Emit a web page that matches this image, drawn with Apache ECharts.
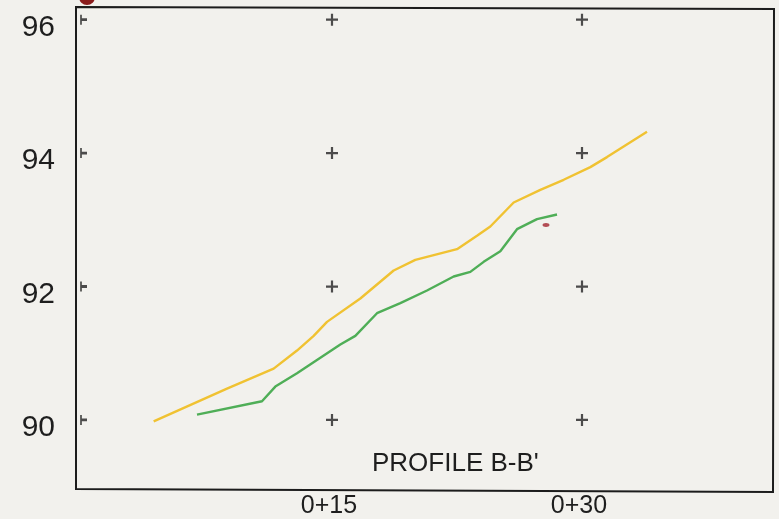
<!DOCTYPE html>
<html>
<head>
<meta charset="utf-8">
<title>Profile B-B'</title>
<script src="https://cdn.jsdelivr.net/npm/echarts@6/dist/echarts.min.js"></script>
<style>
  html, body { margin: 0; padding: 0; background: #f1f0ec; }
  #chart { width: 779px; height: 519px; }
</style>
</head>
<body>
<div id="chart"></div>
<script>
// Station (distance along profile) vs. elevation
const upperStation = [4.3, 8.7, 11.5, 12.9, 13.9, 14.7, 16.7, 18.7, 20.0, 22.5, 23.7, 24.5, 25.9, 27.5, 28.9, 30.5, 31.5, 33.9];
const upperElev    = [89.98, 90.47, 90.77, 91.04, 91.26, 91.47, 91.82, 92.24, 92.40, 92.56, 92.76, 92.90, 93.26, 93.45, 93.60, 93.79, 93.94, 94.32];

const lowerStation = [6.9, 10.8, 11.6, 12.9, 15.5, 16.4, 17.7, 19.1, 20.7, 22.3, 23.3, 24.1, 25.1, 26.1, 27.3, 28.5];
const lowerElev    = [90.08, 90.28, 90.50, 90.70, 91.13, 91.26, 91.60, 91.75, 91.94, 92.15, 92.22, 92.37, 92.53, 92.86, 93.01, 93.08];

// Tick positions
const stationTicks = [15, 30];
const elevTicks = [90, 92, 94, 96];
const crossStations = [0, 15, 30];

const pairs = (xs, ys) => xs.map((x, i) => [x, ys[i]]);

const crossPts = [];
const edgePts = [];
crossStations.forEach(s => elevTicks.forEach(e => {
  (s === 0 ? edgePts : crossPts).push([s, e]);
}));

const FONT = '"Liberation Sans", Arial, sans-serif';

const chart = echarts.init(document.getElementById('chart'));
chart.setOption({
  backgroundColor: '#f2f1ed',
  animation: false,
  grid: { left: 76, top: 7, width: 697, height: 482, show: false },
  xAxis: {
    type: 'value', min: -0.36, max: 41.46,
    axisLine: { show: false }, axisTick: { show: false }, splitLine: { show: false },
    axisLabel: {
      customValues: stationTicks,
      formatter: v => '{t|0+' + v + '}',
      rich: { t: { fontFamily: FONT, fontSize: 25, color: '#1e1e1e', padding: [0, 6, 0, 0] } },
      margin: 8
    }
  },
  yAxis: {
    type: 'value', min: 89.01, max: 96.19,
    axisLine: { show: false }, axisTick: { show: false }, splitLine: { show: false },
    axisLabel: {
      customValues: elevTicks,
      fontFamily: FONT, fontSize: 30, color: '#1e1e1e', margin: 21,
      verticalAlign: 'top', lineHeight: 16
    }
  },
  graphic: [
    // plot frame (the sheet sits a little askew)
    {
      type: 'polygon', silent: true,
      shape: { points: [[76, 7], [774, 9], [773, 492], [76, 489]] },
      style: { fill: 'none', stroke: '#1c1c1c', lineWidth: 2 }
    },
    {
      type: 'text', left: 372, top: 451,
      style: { text: "PROFILE B-B'", font: '26px ' + FONT, fill: '#1e1e1e' }
    },
    { type: 'circle', shape: { cx: 87, cy: -3, r: 8 }, style: { fill: '#8a1c1c' } },
    { type: 'ellipse', shape: { cx: 546, cy: 225, rx: 3.5, ry: 2 }, style: { fill: '#a8303a', opacity: 0.85 } }
  ],
  series: [
    {
      type: 'scatter', data: crossPts, symbol: 'path://M5,0L5,10M0,5L10,5', symbolSize: 12,
      itemStyle: { color: 'transparent', borderColor: '#222', borderWidth: 2.2 }, silent: true
    },
    {
      type: 'scatter', data: edgePts, symbol: 'path://M0,0L0,10M0,5L6,5', symbolSize: [6, 10],
      symbolOffset: [2, 0],
      itemStyle: { color: 'transparent', borderColor: '#222', borderWidth: 2.2 }, silent: true
    },
    {
      type: 'line', data: pairs(upperStation, upperElev), symbol: 'none',
      lineStyle: { color: '#f0c232', width: 2.4 }
    },
    {
      type: 'line', data: pairs(lowerStation, lowerElev), symbol: 'none',
      lineStyle: { color: '#4fae57', width: 2.4 }
    }
  ]
});
</script>
</body>
</html>
